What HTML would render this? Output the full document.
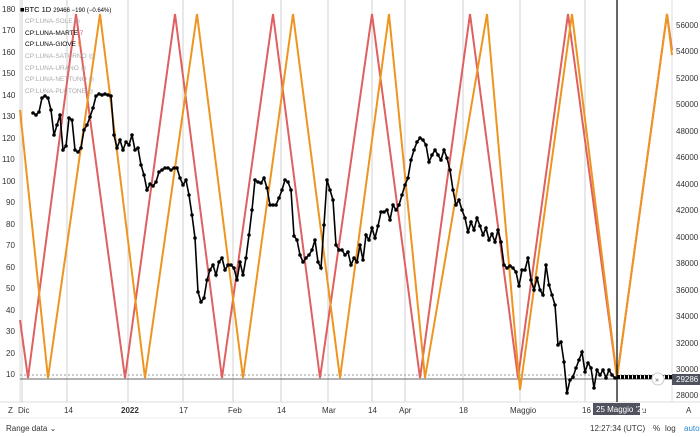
<!DOCTYPE html>
<html><head><meta charset="utf-8"><style>
body{margin:0;width:700px;height:437px;background:#fff;overflow:hidden;font-family:"Liberation Sans",sans-serif}
svg{position:absolute;left:0;top:0}
</style></head><body>
<svg width="700" height="437" viewBox="0 0 700 437" font-family="Liberation Sans, sans-serif">
<defs><marker id="d" markerWidth="4" markerHeight="4" refX="2" refY="2" markerUnits="userSpaceOnUse"><circle cx="2" cy="2" r="1.8" fill="#000"/></marker></defs>
<g stroke="#d0d0d0" stroke-width="1">
<line x1="22" y1="0" x2="22" y2="402"/><line x1="67" y1="0" x2="67" y2="402"/><line x1="128" y1="0" x2="128" y2="402"/><line x1="183" y1="0" x2="183" y2="402"/><line x1="233" y1="0" x2="233" y2="402"/><line x1="281" y1="0" x2="281" y2="402"/><line x1="328" y1="0" x2="328" y2="402"/><line x1="372" y1="0" x2="372" y2="402"/><line x1="405" y1="0" x2="405" y2="402"/><line x1="463" y1="0" x2="463" y2="402"/><line x1="520" y1="0" x2="520" y2="402"/><line x1="585" y1="0" x2="585" y2="402"/>
</g>
<line x1="20" y1="0" x2="20" y2="402" stroke="#ddd"/>
<line x1="672" y1="0" x2="672" y2="402" stroke="#ddd"/>
<line x1="0" y1="402" x2="700" y2="402" stroke="#ddd"/>
<line x1="0" y1="418" x2="700" y2="418" stroke="#eee"/>
<line x1="20" y1="375" x2="672" y2="375" stroke="#999" stroke-dasharray="2,2"/>
<line x1="20" y1="379" x2="672" y2="379" stroke="#666"/>
<polyline fill="none" stroke="#e06060" stroke-width="2" points="20,320 28,378 76,14 125,378 175,14 222,378 273,14 320,378 372,14 420,378 470,14 518,378 568,14 617,378 667,14 672,50"/>
<polyline fill="none" stroke="#ee9520" stroke-width="2" points="20,110 48,378 100,14 145,378 197,14 243,378 293,14 340,378 389,14 425,378 487,14 520,390 572,14 617,378 667,14 672,55"/>
<polyline fill="none" stroke="#000" stroke-width="1.6" marker-start="url(#d)" marker-mid="url(#d)" marker-end="url(#d)" points="33,113 36,115 39,112 42,98 45,96 48,98 51,110 54,135 57,125 60,115 63,150 66,146 69,118 72,120 75,150 78,152 81,148 84,130 87,125 90,117 93,108 96,96 99,94 102,95 105,94 108,95 111,96 114,135 117,148 120,140 123,150 126,142 129,145 132,135 135,150 138,148 141,165 144,175 147,190 150,184 153,186 156,182 159,172 162,170 165,168 168,168 171,170 174,168 177,168 180,178 183,185 186,180 189,195 192,215 195,238 198,292 201,302 204,298 207,280 210,270 213,265 216,275 219,262 222,258 225,270 228,265 231,265 234,268 237,280 240,262 243,275 246,258 249,235 252,210 255,180 258,182 261,183 264,178 267,188 270,205 273,205 276,205 279,198 282,190 285,180 288,182 291,190 294,236 297,240 300,255 303,262 306,258 309,255 312,250 315,240 318,262 321,268 324,225 327,180 330,190 333,200 336,245 339,250 342,250 345,255 348,252 351,265 354,258 357,262 360,245 363,260 366,235 369,240 372,228 375,238 378,226 381,212 384,212 387,210 390,220 393,205 396,210 399,205 402,195 405,185 408,178 411,160 414,150 417,142 420,138 423,140 426,145 429,162 432,155 435,150 438,155 441,160 444,150 447,158 450,170 453,190 456,205 459,200 462,210 465,218 468,232 471,222 474,230 477,218 480,226 483,235 486,228 489,240 492,234 495,242 498,230 501,242 504,265 507,268 510,266 513,268 516,272 519,286 522,270 525,270 528,258 531,280 534,290 537,278 540,290 543,295 546,265 549,285 552,295 555,305 558,345 561,342 564,362 567,393 570,380 573,377 576,368 579,360 582,352 585,372 588,363 591,368 594,388 597,370 600,375 603,370 606,378 609,370 612,375 615,378"/>
<line x1="617" y1="0" x2="617" y2="402" stroke="#000" stroke-width="1.2"/>
<line x1="617" y1="377" x2="672" y2="377" stroke="#000" stroke-width="4" stroke-dasharray="3,1"/>
<g font-size="8" fill="#333">
<text x="2" y="12">180</text><text x="2" y="33">170</text><text x="2" y="55">160</text><text x="2" y="76">150</text><text x="2" y="98">140</text><text x="2" y="119">130</text><text x="2" y="141">120</text><text x="2" y="162">110</text><text x="2" y="184">100</text><text x="6" y="205">90</text><text x="6" y="227">80</text><text x="6" y="248">70</text><text x="6" y="270">60</text><text x="6" y="291">50</text><text x="6" y="313">40</text><text x="6" y="334">30</text><text x="6" y="356">20</text><text x="6" y="377">10</text>
</g>
<g font-size="8" fill="#333">
<text x="676" y="28">56000</text><text x="676" y="54">54000</text><text x="676" y="81">52000</text><text x="676" y="107">50000</text><text x="676" y="134">48000</text><text x="676" y="160">46000</text><text x="676" y="187">44000</text><text x="676" y="213">42000</text><text x="676" y="240">40000</text><text x="676" y="266">38000</text><text x="676" y="293">36000</text><text x="676" y="319">34000</text><text x="676" y="346">32000</text><text x="676" y="372">30000</text><text x="676" y="398">28000</text>
</g>
<rect x="672" y="374" width="28" height="11" fill="#50535e"/>
<text x="676" y="382" font-size="8" fill="#fff">29286</text>
<circle cx="658" cy="379" r="6" fill="#fff" stroke="#ccc"/><text x="655" y="382" font-size="7" fill="#555">»</text>
<g font-size="8" fill="#333">
<text x="8" y="413">Z</text><text x="18" y="413">Dic</text><text x="64" y="413">14</text><text x="121" y="413" font-weight="bold">2022</text><text x="179" y="413">17</text><text x="228" y="413">Feb</text><text x="277" y="413">14</text><text x="322" y="413">Mar</text><text x="368" y="413">14</text><text x="399" y="413">Apr</text><text x="459" y="413">18</text><text x="510" y="413">Maggio</text><text x="582" y="413">16</text><text x="642" y="413">u</text><text x="686" y="413">A</text>
</g>
<rect x="593" y="403" width="47" height="12" fill="#50535e"/>
<text x="596" y="412" font-size="8" fill="#fff">25 Maggio '22</text>
<g font-size="8" fill="#333">
<text x="6" y="431">Range data ⌄</text><text x="590" y="431">12:27:34 (UTC)</text><text x="653" y="431">%</text><text x="665" y="431">log</text><text x="684" y="431" fill="#2a8ad8">auto</text>
</g>
<g font-size="6.5">
<text x="20" y="12" fill="#000" font-size="7.5">■BTC  1D  <tspan font-size="6">29466  −190 (−0.64%)</tspan></text>
<text x="25" y="23" fill="#aaa">CP:LUNA-SOLE ◎</text>
<text x="25" y="35" fill="#000">CP:LUNA-MARTE <tspan fill="#e06060">7</tspan></text>
<text x="25" y="46" fill="#000">CP:LUNA-GIOVE <tspan fill="#ee9520">5</tspan></text>
<text x="25" y="58" fill="#aaa">CP:LUNA-SATURNO ◎</text>
<text x="25" y="70" fill="#aaa">CP:LUNA-URANO ◎</text>
<text x="25" y="81" fill="#aaa">CP:LUNA-NETTUNO ◎</text>
<text x="25" y="93" fill="#aaa">CP:LUNA-PLUTONE ◎</text>
</g>
</svg>
</body></html>
